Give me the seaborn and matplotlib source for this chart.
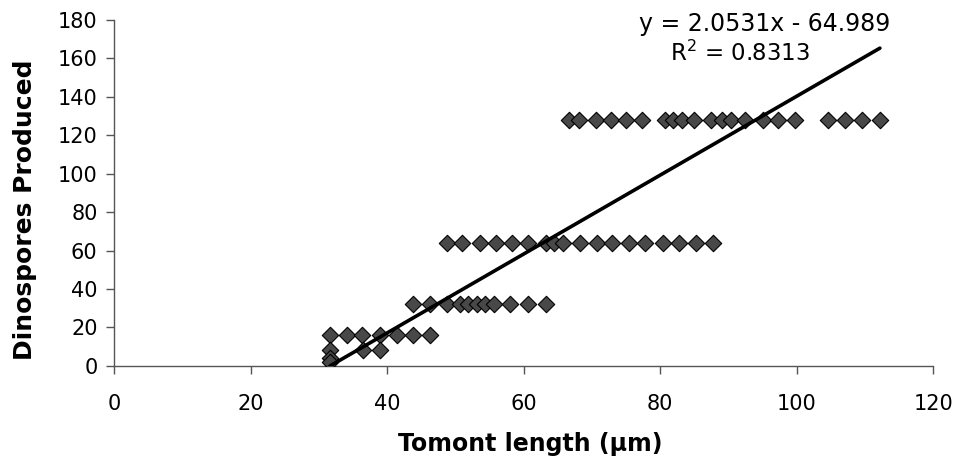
import matplotlib
matplotlib.use("Agg")
import matplotlib.pyplot as plt
import seaborn as sns
import pandas as pd

# Tomont lengths (µm) grouped by number of dinospores produced
len_128 = [66.7, 68.1, 70.6, 72.8, 75.0, 77.4, 80.7, 81.9, 83.2, 84.9, 87.5,
           89.0, 90.4, 92.5, 95.1, 97.3, 99.8, 104.6, 107.1, 109.6, 112.2]
len_64 = [48.7, 50.9, 53.6, 56.0, 58.3, 60.7, 63.3, 64.4, 65.7, 68.3, 70.7,
          72.9, 75.4, 77.8, 80.4, 82.8, 85.3, 87.7]
len_32 = [43.8, 46.3, 48.8, 50.7, 51.9, 53.2, 54.4, 55.7, 58.0, 60.7, 63.3]
len_16 = [31.6, 34.1, 36.3, 39.0, 41.5, 43.8, 46.3]
len_8 = [31.6, 36.5, 39.0]
len_4 = [31.6]
len_2 = [31.6]

groups = {128: len_128, 64: len_64, 32: len_32, 16: len_16, 8: len_8, 4: len_4, 2: len_2}

# Linear trendline as stated on the chart
trend_slope = 2.0531
trend_intercept = -64.989

x_ticks = [0, 20, 40, 60, 80, 100, 120]
y_ticks = [0, 20, 40, 60, 80, 100, 120, 140, 160, 180]
eq_text = "y = 2.0531x - 64.989"
r2_text = "R$^2$ = 0.8313"

rows = []
for d, lens in groups.items():
    for L in lens:
        rows.append({"length": L, "dinospores": d})
df = pd.DataFrame(rows)

xmin, xmax = df["length"].min(), df["length"].max()
trend = pd.DataFrame({"length": [xmin, xmax]})
trend["fit"] = trend_slope * trend["length"] + trend_intercept

sns.set_style("white")
plt.rcParams["font.family"] = ["DejaVu Sans"]
plt.rcParams["mathtext.fontset"] = "dejavusans"
plt.rcParams["text.color"] = "black"
plt.rcParams["axes.labelcolor"] = "black"
plt.rcParams["xtick.color"] = "black"
plt.rcParams["ytick.color"] = "black"

fig = plt.figure(figsize=(9.6, 4.66), dpi=100)
ax = fig.add_axes([0.119, 0.215, 0.853, 0.742])

sns.scatterplot(data=df, x="length", y="dinospores", marker="D", s=70,
                color="#484848", edgecolor="black", linewidth=0.8, ax=ax, zorder=3)
sns.lineplot(data=trend, x="length", y="fit", color="black", linewidth=2.6,
             ax=ax, zorder=4)

ax.set_xlim(0, 120)
ax.set_ylim(0, 180)
ax.set_xticks(x_ticks)
ax.set_yticks(y_ticks)
ax.tick_params(axis="both", labelsize=15, direction="out", length=6, width=1,
               color="#555555", labelcolor="black", left=True, bottom=True)
ax.tick_params(axis="x", pad=14)
ax.tick_params(axis="y", pad=6)
for side in ["top", "right"]:
    ax.spines[side].set_visible(False)
for side in ["left", "bottom"]:
    ax.spines[side].set_color("#555555")
    ax.spines[side].set_linewidth(1)

ax.set_xlabel("Tomont length (µm)", fontsize=17, fontweight="bold", color="black")
ax.set_ylabel("Dinospores Produced", fontsize=18, fontweight="bold", color="black")
ax.xaxis.set_label_coords(0.508, -0.225)
ax.yaxis.set_label_coords(-0.109, 0.45)
ax.xaxis.label.set_va("center")
ax.yaxis.label.set_va("center")

fig.text(0.796, 0.948, eq_text, ha="center", va="center", fontsize=17, color="black")
fig.text(0.771, 0.885, r2_text, ha="center", va="center", fontsize=16.5, color="black")

fig.savefig("out.png", dpi=100)
